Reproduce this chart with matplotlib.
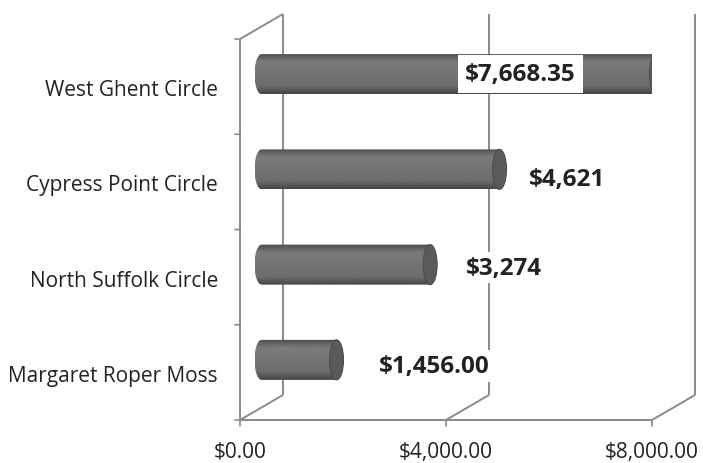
import numpy as np
import matplotlib.pyplot as plt
import matplotlib.transforms as mtransforms
from matplotlib.path import Path
from matplotlib.patches import PathPatch, Ellipse

# Chart data
categories = ["Margaret Roper Moss", "North Suffolk Circle",
              "Cypress Point Circle", "West Ghent Circle"]
values = [1456.00, 3274, 4621, 7668.35]
value_labels = ["$1,456.00", "$3,274", "$4,621", "$7,668.35"]
xticks = [0, 4000, 8000]
xtick_labels = ["$0.00", "$4,000.00", "$8,000.00"]

plt.rcParams["font.family"] = ["Open Sans", "DejaVu Sans"]

fig = plt.figure(figsize=(7.03, 4.64), dpi=100)
fig.patch.set_facecolor("white")
# front plane of the 3d box: x 240..652 px, y 40..421 px (from top)
ax = fig.add_axes([240 / 703, 43 / 464, 412 / 703, 381 / 464])
ax.set_xlim(0, 8000)
ax.set_ylim(-0.5, 3.5)
ax.axis("off")

# depth offsets (back wall and bar centre plane)
back = ax.transData + mtransforms.ScaledTranslation(0.43, 0.25, fig.dpi_scale_trans)
mid = ax.transData + mtransforms.ScaledTranslation(0.215, 0.125, fig.dpi_scale_trans)

wall = dict(color="#8a8a8a", lw=1.4, clip_on=False, solid_capstyle="butt", zorder=1)
y0, y1 = -0.5, 3.5

# back wall gridlines
for t in xticks:
    ax.plot([t, t], [y0, y1], transform=back, **wall)
# floor diagonals
for t in xticks:
    p0 = ax.transData.transform((t, y0))
    p1 = back.transform((t, y0))
    ax.plot([p0[0], p1[0]], [p0[1], p1[1]], transform=None, **wall)
# left wall: front edge + top diagonal
ax.plot([0, 0], [y0, y1], **wall)
p0 = ax.transData.transform((0, y1))
p1 = back.transform((0, y1))
ax.plot([p0[0], p1[0]], [p0[1], p1[1]], transform=None, **wall)
# front floor edge
ax.plot([0, 8000], [y0, y0], **wall)

# tick marks
for b in np.arange(y0, y1 + 0.01, 1.0):
    ax.annotate("", xy=(0, b), xytext=(-5, 0), textcoords="offset pixels",
                arrowprops=dict(arrowstyle="-", color="#8a8a8a", lw=1.2,
                                shrinkA=0, shrinkB=0), annotation_clip=False)
for t in xticks:
    ax.annotate("", xy=(t, y0), xytext=(0, -6), textcoords="offset pixels",
                arrowprops=dict(arrowstyle="-", color="#8a8a8a", lw=1.2,
                                shrinkA=0, shrinkB=0), annotation_clip=False)

# cylinder bars
half_h = 0.21
cap = 7 * 8000 / 412  # cap half-width in data units
grad = np.concatenate([np.linspace(0.30, 0.48, 8), np.linspace(0.48, 0.43, 20),
                       np.linspace(0.43, 0.28, 8)])
grad = np.tile(grad[:, None], (1, 2))
theta_l = np.linspace(np.pi / 2, 3 * np.pi / 2, 30)
theta_r = np.linspace(-np.pi / 2, np.pi / 2, 30)

for i, v in enumerate(values):
    xs = np.concatenate([cap * np.cos(theta_l), v + cap * np.cos(theta_r)])
    ys = np.concatenate([i + half_h * np.sin(theta_l), i + half_h * np.sin(theta_r)])
    verts = np.column_stack([xs, ys])
    verts = np.vstack([verts, verts[:1]])
    body = PathPatch(Path(verts, closed=True), facecolor="none", edgecolor="none",
                     transform=mid, zorder=3)
    ax.add_patch(body)
    im = ax.imshow(grad, cmap="gray", vmin=0, vmax=1, aspect="auto",
                   extent=[-cap, v + cap, i - half_h, i + half_h],
                   transform=mid, interpolation="bilinear", origin="upper",
                   zorder=3)
    im.set_clip_path(body)
    ax.add_patch(Ellipse((v, i), 2 * cap, 2 * half_h, transform=mid,
                         facecolor="#5a5a5a", edgecolor="#4e4e4e", lw=0.8,
                         zorder=4))

# value labels (white background breaks the gridlines like in Excel)
label_dx = [42, 36, 29]
label_dy = [-6, -3, -10]
for i, (v, lab) in enumerate(zip(values, value_labels)):
    if i < 3:
        ax.annotate(lab, xy=(v, i), xycoords=mid, xytext=(label_dx[i], label_dy[i]),
                    textcoords="offset pixels", ha="left", va="center",
                    fontsize=17.5, fontweight="bold", color="#222222", zorder=5,
                    bbox=dict(boxstyle="square,pad=0.15", facecolor="white",
                              edgecolor="none"))
    else:
        ax.annotate(lab, xy=(v, i), xycoords=mid, xytext=(-136, 0),
                    textcoords="offset pixels", ha="center", va="center",
                    fontsize=17.5, fontweight="bold", color="#222222", zorder=5,
                    bbox=dict(boxstyle="square,pad=0.3", facecolor="white",
                              edgecolor="none"))

# category labels
for i, c in enumerate(categories):
    ax.annotate(c, xy=(0, i), xytext=(-22, -3), textcoords="offset pixels",
                ha="right", va="center", fontsize=15, color="#222222",
                annotation_clip=False)

# x tick labels
for t, lab in zip(xticks, xtick_labels):
    ax.annotate(lab, xy=(t, y0), xytext=(0, -32), textcoords="offset pixels",
                ha="center", va="center", fontsize=15, color="#222222",
                annotation_clip=False)

ax.set_xlim(0, 8000)
ax.set_ylim(-0.5, 3.5)
fig.savefig("out.png", dpi=100)
